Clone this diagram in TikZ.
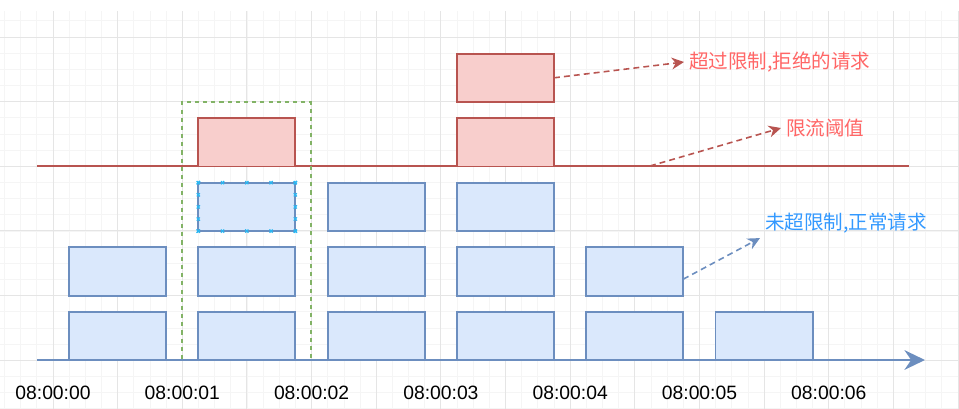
\documentclass[tikz,border=0pt]{standalone}
\usepackage{fontspec}
\setmainfont{Liberation Sans}
\newfontfamily\cjk{Noto Sans CJK SC}
\usepackage{xcolor}
\usetikzlibrary{arrows.meta, positioning, calc}

\definecolor{reqfill}{HTML}{DAE8FC}
\definecolor{reqline}{HTML}{6C8EBF}
\definecolor{rejfill}{HTML}{F8CECC}
\definecolor{rejline}{HTML}{B85450}
\definecolor{winline}{HTML}{82B366}
\definecolor{rejtext}{HTML}{FF6666}
\definecolor{oktext}{HTML}{3399FF}
\definecolor{handleblue}{HTML}{29B6F2}

\begin{document}
\begin{tikzpicture}[
x=0.44pt, y=-0.44pt,
node distance=7.1pt and 14.2pt,
every node/.style={font=\fontsize{8.5}{10}\selectfont},
reqbox/.style={draw=reqline, fill=reqfill, line width=0.8pt, minimum width=42.7pt, minimum height=21.3pt, inner sep=0pt, outer sep=0pt},
rejbox/.style={reqbox, draw=rejline, fill=rejfill},
window/.style={draw=winline, line width=0.65pt, dash pattern=on 1.8pt off 1.8pt, minimum width=56.8pt, minimum height=113.5pt, inner sep=0pt},
minorgrid/.style={draw=black!4, line width=0.3pt},
majorgrid/.style={draw=black!10, line width=0.4pt},
axis/.style={draw=reqline, line width=1.3pt, -{Stealth[length=9pt, width=8.6pt]}},
limitline/.style={draw=rejline, line width=0.7pt},
rejarrow/.style={draw=rejline, line width=0.7pt, dash pattern=on 2.6pt off 1.8pt, -{Stealth[length=5.4pt, width=5.2pt]}},
okarrow/.style={rejarrow, draw=reqline},
rejlabel/.style={text=rejtext, font=\cjk\fontsize{8.6}{10}\selectfont, inner sep=2pt},
oklabel/.style={rejlabel, text=oktext},
handle/.style={draw=handleblue, line width=0.5pt}
]
\useasboundingbox (0,0) rectangle (959,409);

% background grid
\foreach \i in {0,...,59} \draw[minorgrid] ({4.5+16.16*\i},11) -- ({4.5+16.16*\i},409);
\foreach \i in {0,...,24} \draw[minorgrid] (0,{20.8+16.16*\i}) -- (959,{20.8+16.16*\i});
\foreach \i in {-1,...,14} \draw[majorgrid] ({53+64.65*\i},11) -- ({53+64.65*\i},409);
\foreach \i in {0,...,5} \draw[majorgrid] (0,{37+64.65*\i}) -- (959,{37+64.65*\i});

% threshold
\coordinate (limitstart) at (37,166);
\coordinate (limitend) at (909,166);
\draw[limitline] (limitstart) -- (limitend);

% one second window
\node[window] (win) at (246.5,231) {};

% requests
\node[reqbox] (c0r1) at (117.5,336) {};
\node[reqbox, above=of c0r1] (c0r2) {};

\node[reqbox, right=of c0r1] (c1r1) {};
\node[reqbox, above=of c1r1] (c1r2) {};
\node[reqbox, above=of c1r2] (c1r3) {};
\node[rejbox, above=of c1r3] (c1r4) {};

\node[reqbox, right=of c1r1] (c2r1) {};
\node[reqbox, above=of c2r1] (c2r2) {};
\node[reqbox, above=of c2r2] (c2r3) {};

\node[reqbox, right=of c2r1] (c3r1) {};
\node[reqbox, above=of c3r1] (c3r2) {};
\node[reqbox, above=of c3r2] (c3r3) {};
\node[rejbox, above=of c3r3] (c3r4) {};
\node[rejbox, above=of c3r4] (c3r5) {};

\node[reqbox, right=of c3r1] (c4r1) {};
\node[reqbox, above=of c4r1] (c4r2) {};

\node[reqbox, right=of c4r1] (c5r1) {};

% selection handles
\foreach \f in {0,0.25,0.5,0.75,1} {
  \draw[handle] ($(c1r3.north west)!\f!(c1r3.north east)$) +(-1.6,-1.6) -- +(1.6,1.6) +(-1.6,1.6) -- +(1.6,-1.6);
  \draw[handle] ($(c1r3.south west)!\f!(c1r3.south east)$) +(-1.6,-1.6) -- +(1.6,1.6) +(-1.6,1.6) -- +(1.6,-1.6);
  \draw[handle] ($(c1r3.north west)!\f!(c1r3.south west)$) +(-1.6,-1.6) -- +(1.6,1.6) +(-1.6,1.6) -- +(1.6,-1.6);
  \draw[handle] ($(c1r3.north east)!\f!(c1r3.south east)$) +(-1.6,-1.6) -- +(1.6,1.6) +(-1.6,1.6) -- +(1.6,-1.6);
}

% time axis
\coordinate (axisstart) at (37,360);
\coordinate (axisend) at (925,360);
\draw[axis] (axisstart) -- (axisend);

\node (t0) at (53,393) {08:00:00};
\node (t1) at (182.3,393) {08:00:01};
\node (t2) at (311.6,393) {08:00:02};
\node (t3) at (440.9,393) {08:00:03};
\node (t4) at (570.2,393) {08:00:04};
\node (t5) at (699.5,393) {08:00:05};
\node (t6) at (828.8,393) {08:00:06};

% notes
\node[rejlabel, anchor=west] (reject) at (684,62) {超过限制,拒绝的请求};
\node[rejlabel, anchor=west] (limit) at (781,128) {限流阈值};
\node[oklabel, anchor=west] (normal) at (760,223) {未超限制,正常请求};
\coordinate (limitpoint) at (650,166);

\draw[rejarrow] (c3r5.east) -- (reject.west);
\draw[rejarrow] (limitpoint) -- (limit.west);
\draw[okarrow] (c4r2.-9) -- (normal.south west);

\end{tikzpicture}
\end{document}
